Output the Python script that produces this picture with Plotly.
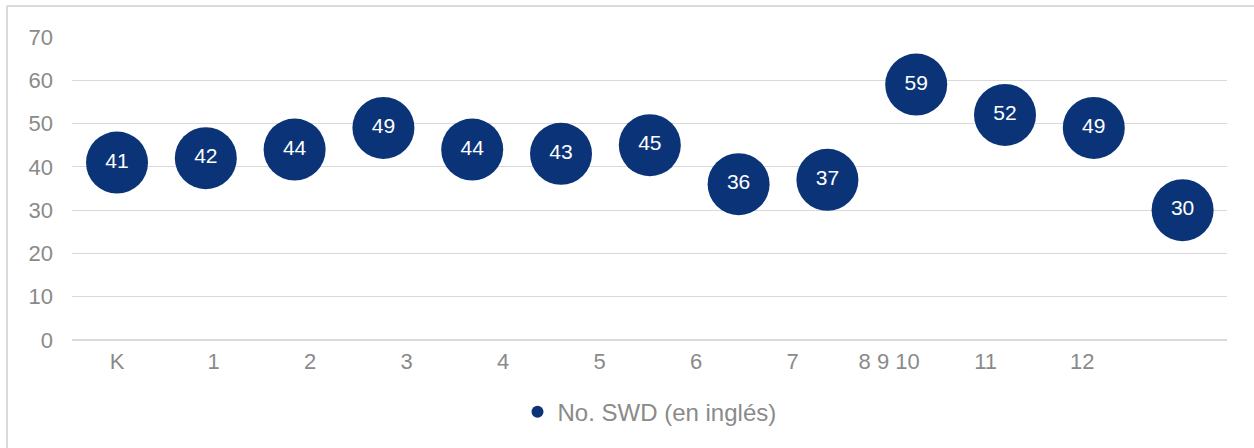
import plotly.graph_objects as go

grades = ["K", "1", "2", "3", "4", "5", "6", "7", "8", "9", "10", "11", "12"]
swd_values = [41, 42, 44, 49, 44, 43, 45, 36, 37, 59, 52, 49, 30]
axis_labels = ["K", "1", "2", "3", "4", "5", "6", "7", "8 9 10", "11", "12"]
y_ticks = [0, 10, 20, 30, 40, 50, 60, 70]
series_name = "No. SWD (en inglés)"

navy = "#0b3478"
gray = "#8a8a8a"
grid = "#d9d9d9"
font_family = "Liberation Sans, Arial, sans-serif"

fig = go.Figure()
fig.add_trace(go.Scatter(
    x=grades, y=swd_values, mode="markers+text",
    name=series_name,
    marker=dict(size=62, color=navy, line=dict(width=0)),
    text=[str(v) for v in swd_values],
    textposition="middle center",
    textfont=dict(color="white", size=21, family=font_family),
    cliponaxis=False,
))
# invisible trace carrying the label row axis
fig.add_trace(go.Scatter(
    x=axis_labels, y=[None] * len(axis_labels), xaxis="x2",
    mode="markers", showlegend=False, hoverinfo="skip",
))

fig.update_layout(
    width=1254, height=448,
    margin=dict(l=72, r=27, t=37, b=108),
    paper_bgcolor="white", plot_bgcolor="white",
    font=dict(family=font_family, color=gray, size=22),
    xaxis=dict(type="category", categoryorder="array", categoryarray=grades,
               range=[-0.507, 12.5], showticklabels=False, showgrid=False,
               zeroline=False, showline=False, fixedrange=True),
    xaxis2=dict(type="category", categoryorder="array", categoryarray=axis_labels,
                overlaying="x", side="bottom", range=[-0.466, 11.5],
                showgrid=False, zeroline=False, showline=False,
                tickfont=dict(size=22, color=gray), ticklabelstandoff=6),
    yaxis=dict(range=[0, 70], tickvals=y_ticks, showgrid=True, gridcolor=grid,
               gridwidth=1, zeroline=True, zerolinecolor=grid, zerolinewidth=1.5,
               showline=False, tickfont=dict(size=22, color=gray),
               ticklabelstandoff=18),
    showlegend=True,
    legend=dict(orientation="h", x=0.5, xanchor="center", y=-0.238, yanchor="middle",
                font=dict(size=24, color=gray), itemsizing="constant",
                itemwidth=30),
    shapes=[
        dict(type="line", xref="paper", yref="paper", x0=-0.0563, x1=1.03,
             y0=1.1023, y1=1.1023, line=dict(color="#d9d9d9", width=2)),
        dict(type="line", xref="paper", yref="paper", x0=-0.0563, x1=-0.0563,
             y0=1.1023, y1=-0.4, line=dict(color="#d9d9d9", width=2)),
    ],
)

fig.write_html("out.html")
